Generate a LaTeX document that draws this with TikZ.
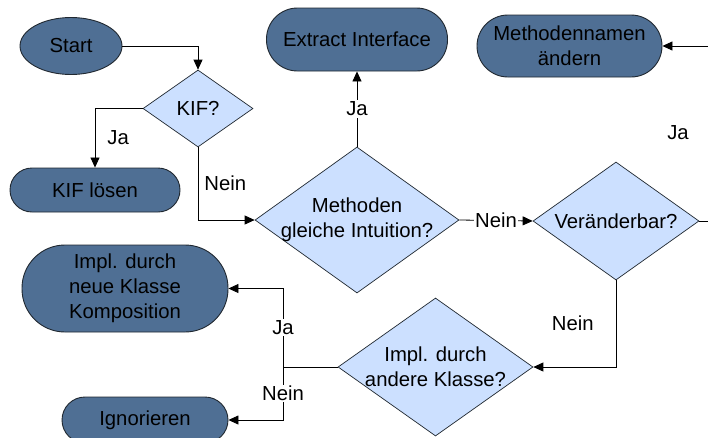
\documentclass[tikz,border=0pt]{standalone}
\usepackage{fontspec}
\setmainfont{Liberation Sans}
\usetikzlibrary{shapes.geometric,arrows.meta}
\definecolor{termfill}{HTML}{4F6F94}
\definecolor{decfill}{HTML}{CCE0FF}
\definecolor{edgecol}{HTML}{202830}
\tikzset{
  every node/.style={font=\fontsize{20.3}{25}\selectfont, text=black},
  terminal/.style={draw=edgecol, line width=0.9pt, fill=termfill, inner sep=0pt, align=center},
  stadium/.style={terminal, rectangle, rounded corners=#1},
  startshape/.style={terminal, ellipse},
  decision/.style={draw=edgecol, line width=0.7pt, fill=decfill, diamond, inner sep=0pt},
  conn/.style={draw=black, line width=0.8pt},
  arrowconn/.style={conn, -{Triangle[length=10pt,width=9pt]}},
  edgelabel/.style={inner sep=1.5pt, fill=white},
  sidelabel/.style={inner sep=0pt}
}
\begin{document}
\begin{tikzpicture}[x=1pt,y=-1pt]
\useasboundingbox (0,0) rectangle (708,437);

% terminals
\node[startshape, minimum width=102pt, minimum height=57pt] (start) at (71,46) {Start};
\node[stadium=22pt, minimum width=170pt, minimum height=44pt] (kifl) at (95,190) {KIF lösen};
\node[stadium=31pt, minimum width=181pt, minimum height=63pt] (extract) at (357,39.5) {Extract Interface};
\node[stadium=31pt, minimum width=185pt, minimum height=62pt] (namen) at (569.5,46) {Methodennamen\\ändern};
\node[stadium=43pt, minimum width=206pt, minimum height=87pt] (neue) at (125,288.5) {Impl. durch\\neue Klasse\\Komposition};
\node[stadium=23pt, minimum width=166pt, minimum height=46pt] (ign) at (145,420) {Ignorieren};

% decisions
\node[decision, minimum width=110pt, minimum height=77pt,
      label={center:KIF?}] (kif) at (198,108.5) {};
\node[decision, minimum width=204pt, minimum height=146pt,
      label={[align=center]center:Methoden\\gleiche Intuition?}] (meth) at (357,220) {};
\node[decision, minimum width=166pt, minimum height=118pt,
      label={center:Veränderbar?}] (ver) at (616,221) {};
\node[decision, minimum width=195pt, minimum height=138pt,
      label={[align=center]center:Impl. durch\\andere Klasse?}] (impl) at (435.5,367) {};

% connectors
\draw[arrowconn] (start.east) -| (kif.north);
\draw[arrowconn] (kif.west) -| node[pos=0.75, sidelabel, anchor=west, xshift=12pt] {Ja} (kifl.north);
\draw[arrowconn] (kif.south) |- node[pos=0.25, sidelabel, anchor=west, xshift=6pt] {Nein} (meth.west);
\draw[arrowconn] (meth.north) -- node[midway, edgelabel] {Ja} (extract.south);
\draw[arrowconn] (meth.east) -- node[midway, edgelabel] {Nein} (ver.west);
\draw[arrowconn] (ver.east) -- ++(40,0) |- (namen.east);
\node[sidelabel] (javer) at (678,133) {Ja};
\draw[arrowconn] (ver.south) |- node[pos=0.25, sidelabel, anchor=east, xshift=-22pt] {Nein} (impl.east);

\coordinate (split) at (283,367);
\draw[conn] (impl.west) -- (split);
\draw[arrowconn] (split) |- node[pos=0.25, edgelabel] {Ja} (neue.east);
\draw[arrowconn] (split) |- node[pos=0.25, edgelabel] {Nein} (ign.east);
\end{tikzpicture}
\end{document}
